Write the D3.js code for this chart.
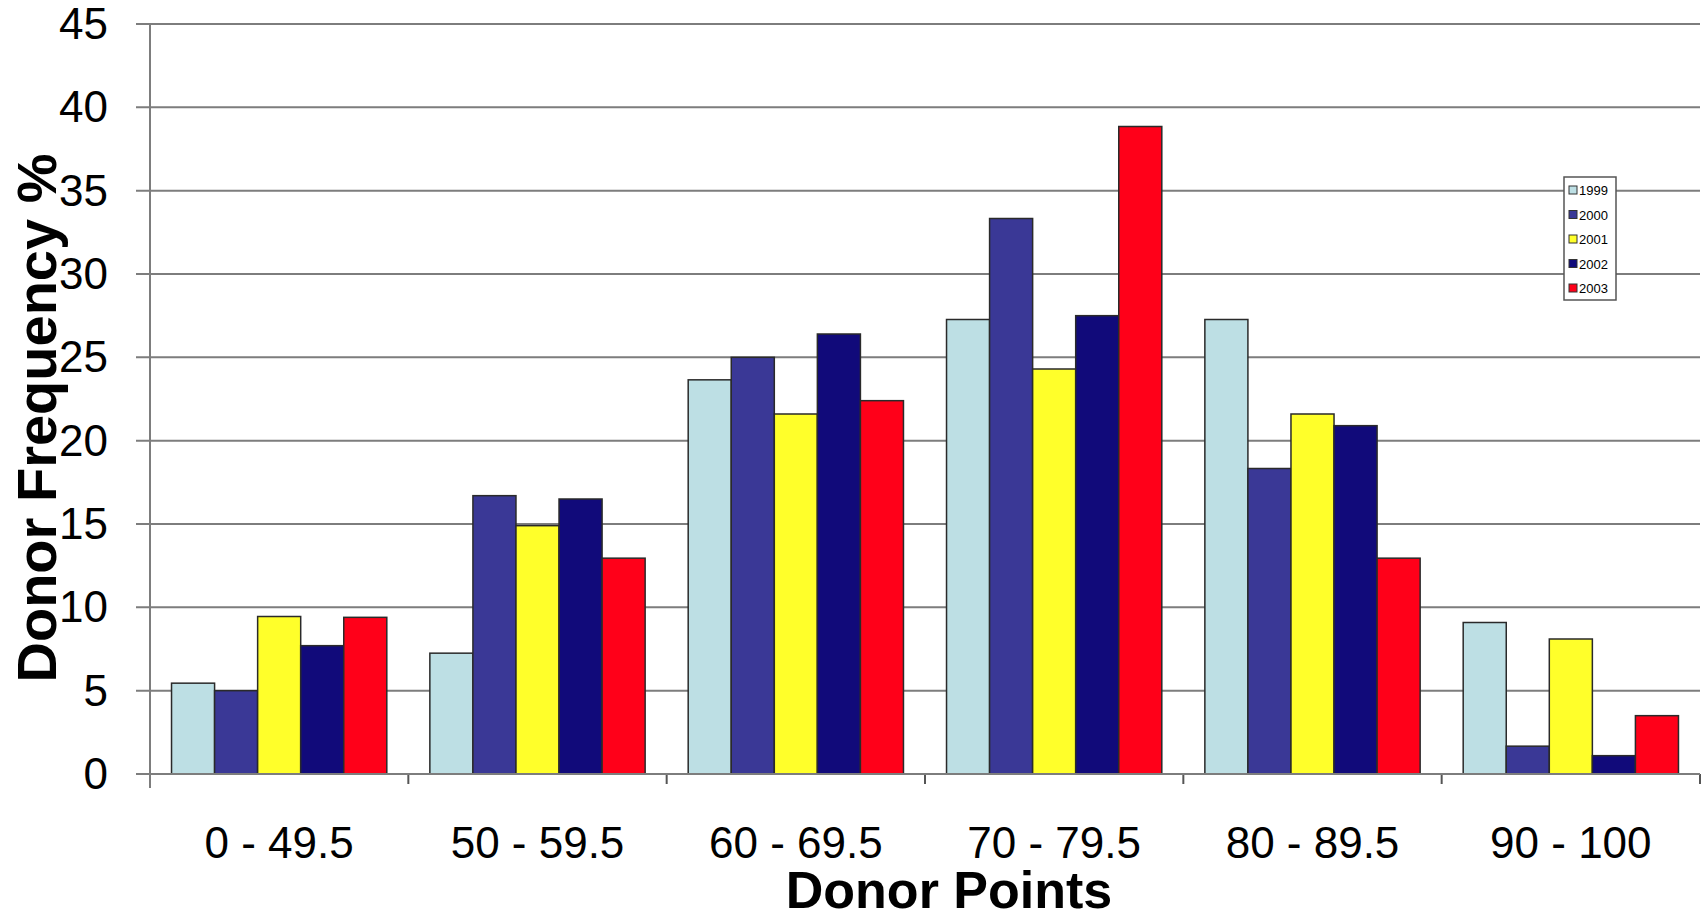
<!DOCTYPE html>
<html>
<head>
<meta charset="utf-8">
<script src="https://cdn.jsdelivr.net/npm/d3@7"></script>
<style>
  html, body { margin: 0; padding: 0; background: #fff; }
  svg { display: block; }
  text { font-family: "Liberation Sans", Arial, sans-serif; fill: #000; }
</style>
</head>
<body>
<svg id="chart" width="1706" height="920"></svg>
<script>
// Donor point bands on the x axis
const categories = ["0 - 49.5", "50 - 59.5", "60 - 69.5", "70 - 79.5", "80 - 89.5", "90 - 100"];
// Years shown as grouped bars
const years = ["1999", "2000", "2001", "2002", "2003"];
// Donor frequency (%) per year, one value per band
const v1999 = [5.45, 7.25, 23.65, 27.27, 27.27, 9.09];
const v2000 = [5.0, 16.7, 25.0, 33.33, 18.33, 1.67];
const v2001 = [9.45, 14.9, 21.6, 24.3, 21.6, 8.1];
const v2002 = [7.7, 16.5, 26.4, 27.5, 20.9, 1.1];
const v2003 = [9.4, 12.95, 22.4, 38.85, 12.95, 3.5];
const yTicks = [0, 5, 10, 15, 20, 25, 30, 35, 40, 45];
const colors = ["#bddfe4", "#3a3896", "#ffff2a", "#110a7a", "#ff0019"];

const series = [v1999, v2000, v2001, v2002, v2003];

const svg = d3.select("#chart");
const plotL = 150, plotR = 1700, plotT = 24, plotB = 774;

const x = d3.scaleBand().domain(categories).range([plotL, plotR]).paddingInner(0).paddingOuter(0);
const xInner = d3.scaleBand().domain(years).range([0, x.bandwidth()]).paddingInner(0).paddingOuter(0.5);
const y = d3.scaleLinear().domain([0, 45]).range([plotB, plotT]);

// horizontal gridlines with outward ticks
svg.append("g").selectAll("line").data(yTicks).join("line")
  .attr("x1", plotL - 14).attr("x2", plotR)
  .attr("y1", d => y(d)).attr("y2", d => y(d))
  .attr("stroke", "#7d7d7d").attr("stroke-width", 2);

// y axis line
svg.append("line").attr("x1", plotL).attr("x2", plotL).attr("y1", plotT).attr("y2", plotB + 14)
  .attr("stroke", "#7d7d7d").attr("stroke-width", 2);

// category separator ticks
svg.append("g").selectAll("line").data(categories).join("line")
  .attr("x1", c => x(c) + x.bandwidth()).attr("x2", c => x(c) + x.bandwidth())
  .attr("y1", plotB).attr("y2", plotB + 10)
  .attr("stroke", "#555").attr("stroke-width", 2);

// y tick labels
svg.append("g").selectAll("text").data(yTicks).join("text")
  .attr("x", 108).attr("y", d => y(d) + 15)
  .attr("text-anchor", "end").attr("font-size", 44)
  .text(d => d);

// bars
const groups = svg.append("g").selectAll("g").data(categories).join("g")
  .attr("transform", c => `translate(${x(c)},0)`);
groups.selectAll("rect").data((c, ci) => years.map((yr, si) => ({ yr, si, v: series[si][ci] }))).join("rect")
  .attr("x", d => xInner(d.yr))
  .attr("width", xInner.bandwidth())
  .attr("y", d => y(d.v))
  .attr("height", d => y(0) - y(d.v))
  .attr("fill", d => colors[d.si])
  .attr("stroke", "#2a2a2a").attr("stroke-width", 1.5);

// x axis baseline
svg.append("line").attr("x1", plotL - 14).attr("x2", plotR).attr("y1", plotB).attr("y2", plotB)
  .attr("stroke", "#7d7d7d").attr("stroke-width", 2);

// x tick labels
svg.append("g").selectAll("text").data(categories).join("text")
  .attr("x", c => x(c) + x.bandwidth() / 2).attr("y", 858)
  .attr("text-anchor", "middle").attr("font-size", 44)
  .text(c => c);

// axis titles
svg.append("text").attr("x", 949).attr("y", 908).attr("text-anchor", "middle")
  .attr("font-size", 52).attr("font-weight", "bold").text("Donor Points");
svg.append("text").attr("transform", "translate(56,418) rotate(-90)").attr("text-anchor", "middle")
  .attr("font-size", 56).attr("font-weight", "bold").text("Donor Frequency %");

// legend
const lg = svg.append("g").attr("transform", "translate(1564,177)");
lg.append("rect").attr("width", 52).attr("height", 123).attr("fill", "#fff")
  .attr("stroke", "#555").attr("stroke-width", 1.5);
const items = lg.selectAll("g").data(years).join("g")
  .attr("transform", (d, i) => `translate(0,${13 + i * 24.5})`);
items.append("rect").attr("x", 5).attr("y", -4).attr("width", 8).attr("height", 8)
  .attr("fill", (d, i) => colors[i]).attr("stroke", "#333").attr("stroke-width", 1);
items.append("text").attr("x", 15).attr("y", 5).attr("font-size", 13).attr("fill", "#333").text(d => d);
</script>
</body>
</html>
